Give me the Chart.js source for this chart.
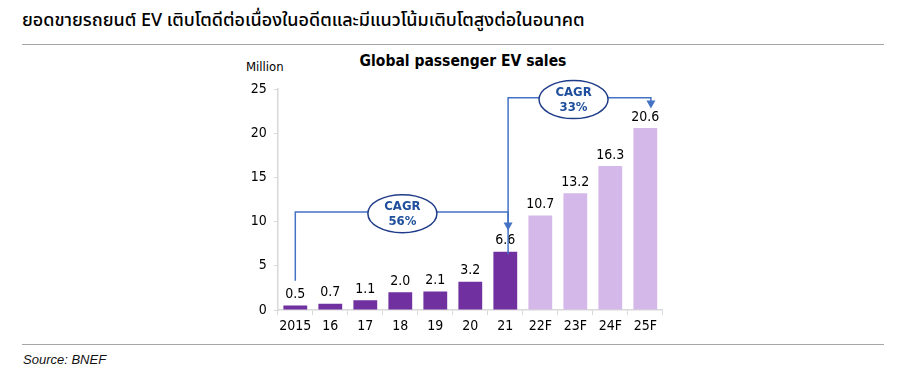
<!DOCTYPE html>
<html>
<head>
<meta charset="utf-8">
<script src="https://cdn.jsdelivr.net/npm/chart.js@4"></script>
<style>
html,body{margin:0;padding:0;background:#fff;width:900px;height:377px;overflow:hidden;position:relative;font-family:"Noto Sans",sans-serif;}
#title{position:absolute;left:22px;top:7px;font-size:18px;font-weight:500;color:#000;white-space:nowrap;font-family:"Noto Sans","Noto Sans Thai",sans-serif;}
.hr{position:absolute;left:22px;width:862px;height:0;border-top:1.5px solid #a6a6a6;}
#src{position:absolute;left:23px;top:352px;font-size:13px;font-style:italic;font-family:"Liberation Sans",Arial,sans-serif;color:#111;}
#ctitle{position:absolute;left:463px;top:52px;transform:translateX(-50%);font:bold 15.5px "DejaVu Sans Condensed","DejaVu Sans",sans-serif;white-space:nowrap;color:#000;}
#unit{position:absolute;left:246px;top:59px;font:13px "DejaVu Sans Condensed","DejaVu Sans",sans-serif;color:#000;}
#wrap{position:absolute;left:200px;top:60px;width:480px;height:280px;}
</style>
</head>
<body>
<div id="title">ยอดขายรถยนต์ EV เติบโตดีต่อเนื่องในอดีตและมีแนวโน้มเติบโตสูงต่อในอนาคต</div>
<div class="hr" style="top:44px"></div>
<div id="ctitle">Global passenger EV sales</div>
<div id="unit">Million</div>
<div id="wrap"><canvas id="c"></canvas></div>
<div class="hr" style="top:344px"></div>
<div id="src">Source: BNEF</div>
<script>
const categories = ["2015","16","17","18","19","20","21","22F","23F","24F","25F"];
const sales = [0.5,0.7,1.1,2.0,2.1,3.2,6.6,10.7,13.2,16.3,20.6];
const isForecast = [false,false,false,false,false,false,false,true,true,true,true];
const yTicks = [0,5,10,15,20,25];
// CAGR annotations: from category index to category index, in data units
const cagrLabels = [["CAGR","56%"],["CAGR","33%"]];
const cagrFromIdx = [0, 6.08];
const cagrToIdx = [6.08, 10.16];
const cagrStartVal = [3.3, 6.3];
const cagrLevelVal = [11.1, 24.0];
const cagrEndVal = [9.0, 22.8];
const cagrBubbleIdx = [3.06, 7.95];
const cagrBubbleVal = [10.9, 23.8];

const DARK = '#7030a0', LIGHT = '#d5b8ea';
const FONT = '"DejaVu Sans Condensed","DejaVu Sans",sans-serif';

const valueLabels = {
  id:'valueLabels',
  afterDatasetsDraw(chart){
    const ctx = chart.ctx;
    const meta = chart.getDatasetMeta(0);
    ctx.save();
    ctx.font = '14px ' + FONT;
    ctx.fillStyle = '#000';
    ctx.textAlign = 'center';
    ctx.textBaseline = 'bottom';
    meta.data.forEach((bar,i)=>{
      ctx.fillText(sales[i].toFixed(1), bar.x, bar.y - 4);
    });
    ctx.restore();
  }
};

const cagr = {
  id:'cagr',
  afterDatasetsDraw(chart){
    const ctx = chart.ctx, x = chart.scales.x, y = chart.scales.y;
    ctx.save();
    for(let k=0;k<cagrLabels.length;k++){
      const x0 = x.getPixelForValue(cagrFromIdx[k]);
      const x1 = x.getPixelForValue(cagrToIdx[k]);
      const ys = y.getPixelForValue(cagrStartVal[k]);
      const yl = y.getPixelForValue(cagrLevelVal[k]);
      const ye = y.getPixelForValue(cagrEndVal[k]);
      ctx.strokeStyle = '#4472c4';
      ctx.lineWidth = 1.5;
      ctx.beginPath();
      ctx.moveTo(x0, ys); ctx.lineTo(x0, yl); ctx.lineTo(x1, yl); ctx.lineTo(x1, ye - 7);
      ctx.stroke();
      ctx.fillStyle = '#4472c4';
      ctx.beginPath();
      ctx.moveTo(x1-4.5, ye-8); ctx.lineTo(x1+4.5, ye-8); ctx.lineTo(x1, ye); ctx.closePath();
      ctx.fill();
      const bx = x.getPixelForValue(cagrBubbleIdx[k]);
      const by = y.getPixelForValue(cagrBubbleVal[k]);
      ctx.beginPath();
      ctx.ellipse(bx, by, 34.5, 19, 0, 0, Math.PI*2);
      ctx.fillStyle = '#fff';
      ctx.fill();
      ctx.strokeStyle = '#1f3c88';
      ctx.lineWidth = 1.5;
      ctx.stroke();
      ctx.fillStyle = '#1f4e9c';
      ctx.font = 'bold 13px ' + FONT;
      ctx.textAlign = 'center';
      ctx.textBaseline = 'middle';
      ctx.fillText(cagrLabels[k][0], bx, by - 7);
      ctx.fillText(cagrLabels[k][1], bx, by + 8);
    }
    ctx.restore();
  }
};

new Chart(document.getElementById('c'), {
  type:'bar',
  data:{
    labels:categories,
    datasets:[{
      data:sales,
      backgroundColor: isForecast.map(f=>f?LIGHT:DARK),
      barPercentage:0.68,
      categoryPercentage:1
    }]
  },
  options:{
    responsive:true,
    maintainAspectRatio:false,
    animation:false,
    events:[],
    layout:{padding:{left:0,top:29,right:17.2,bottom:0}},
    plugins:{legend:{display:false},tooltip:{enabled:false},title:{display:false}},
    scales:{
      x:{
        grid:{drawOnChartArea:false,color:'#d9d9d9',tickLength:5,offset:true},
        border:{color:'#d9d9d9',width:1.5},
        ticks:{color:'#000',font:{family:FONT,size:14},padding:3,maxRotation:0,autoSkip:false},
        afterFit(s){ s.height = 30; }
      },
      y:{
        min:0,max:25,
        afterBuildTicks(s){ s.ticks = yTicks.map(v=>({value:v})); },
        grid:{drawOnChartArea:false,color:'#d9d9d9',tickLength:4},
        border:{color:'#d9d9d9',width:1.5},
        ticks:{color:'#000',font:{family:FONT,size:14},padding:7},
        afterFit(s){ s.width = 77.8; }
      }
    }
  },
  plugins:[valueLabels,cagr]
});
</script>
</body>
</html>
